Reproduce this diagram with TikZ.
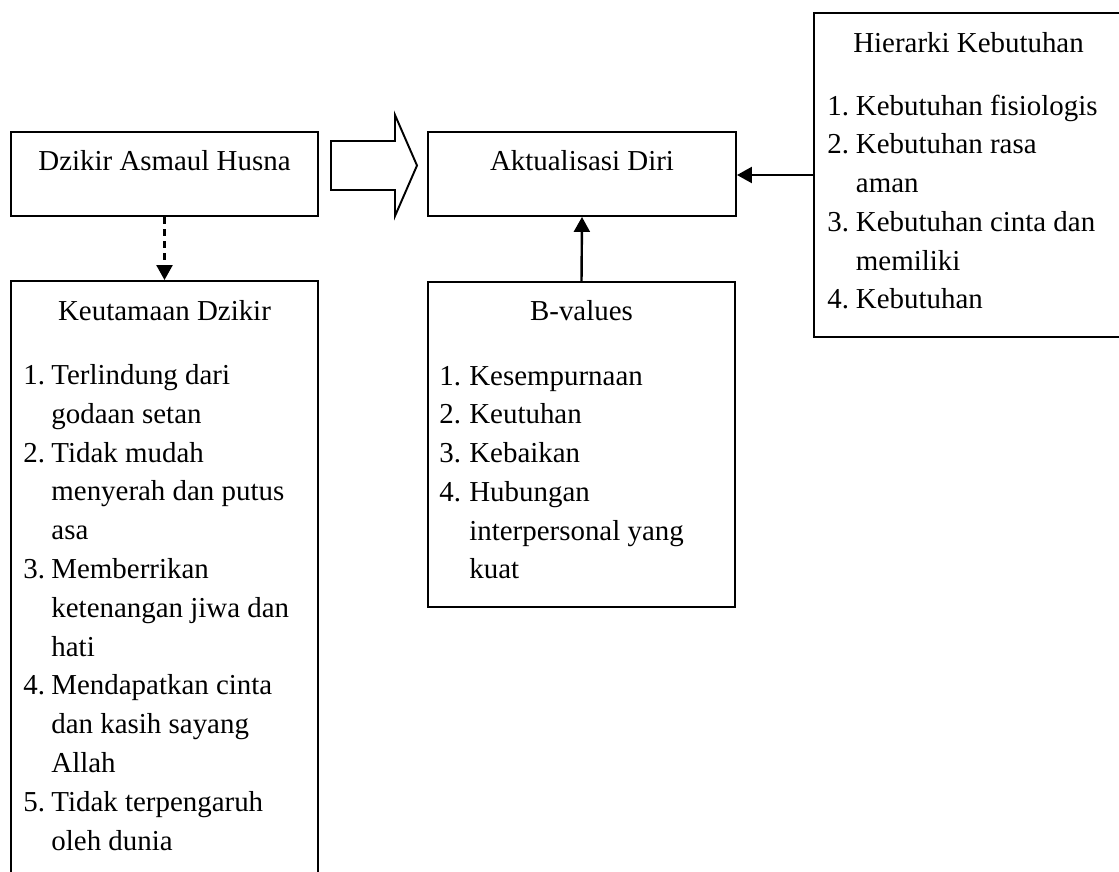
\documentclass[tikz,border=0pt]{standalone}
\usepackage{fontspec}
\setmainfont{Liberation Serif}
\usetikzlibrary{arrows.meta,fit}

\newcommand{\numlist}[2]{\begin{tabular}[t]{@{}p{#1}@{}l@{}}#2\end{tabular}}

\begin{document}
\begin{tikzpicture}[x=0.415pt,y=-0.415pt,
  box/.style={draw, line width=0.8pt, inner sep=0pt},
  title/.style={anchor=base, inner sep=0pt, font=\fontsize{12pt}{16.1pt}\selectfont},
  list/.style={anchor=base west, inner sep=0pt, font=\fontsize{12pt}{16.1pt}\selectfont},
  >={Triangle[length=6.2pt,width=6.6pt]}]
\useasboundingbox (0,0) rectangle (1119,871);
\clip (0,0) rectangle (1119,871);

% boxes
\node[box, fit={(11,132) (318,216)}] (dzikir) {};
\node[box, fit={(428,132) (736,216)}] (aktual) {};
\node[box, fit={(11,281) (318,900)}] (keut) {};
\node[box, fit={(428,282) (735,607)}] (bval) {};
\node[box, fit={(814,13) (1140,337)}] (hier) {};

% titles
\node[title] (dzikirtitle) at (164.5,170) {Dzikir Asmaul Husna};
\node[title] (aktualtitle) at (582,170) {Aktualisasi Diri};
\node[title] (keuttitle) at (164.5,320) {Keutamaan Dzikir};
\node[title] (bvaltitle) at (581.5,320) {B-values};
\node[title] (hiertitle) at (968.5,52) {Hierarki Kebutuhan};

% lists
\node[list] (keutlist) at (23,384.5)
{\numlist{11.6pt}{1.&Terlindung dari\\ &godaan setan\\
2.&Tidak mudah\\ &menyerah dan putus\\ &asa\\
3.&Memberrikan\\ &ketenangan jiwa dan\\ &hati\\
4.&Mendapatkan cinta\\ &dan kasih sayang\\ &Allah\\
5.&Tidak terpengaruh\\ &oleh dunia}};

\node[list] (bvallist) at (439,385)
{\numlist{12.4pt}{1.&Kesempurnaan\\ 2.&Keutuhan\\ 3.&Kebaikan\\
4.&Hubungan\\ &interpersonal yang\\ &kuat}};

\node[list] (hierlist) at (827,115)
{\numlist{11.8pt}{1.&Kebutuhan fisiologis\\ 2.&Kebutuhan rasa\\ &aman\\
3.&Kebutuhan cinta dan\\ &memiliki\\ 4.&Kebutuhan}};

% block arrow
\draw[line width=0.8pt] (331,141) -- (395,141) -- (395,115) -- (417,165.5)
  -- (395,216) -- (395,190) -- (331,190) -- cycle;

% connectors
\draw[->, line width=1pt, dash pattern=on 3pt off 2pt] (dzikir.south) -- (keut.north);
\draw[->, line width=1pt] (bval.north) -- (aktual.south);
\draw[->, line width=1pt] (hier.west) -- (hier.west -| aktual.east);
\end{tikzpicture}
\end{document}
